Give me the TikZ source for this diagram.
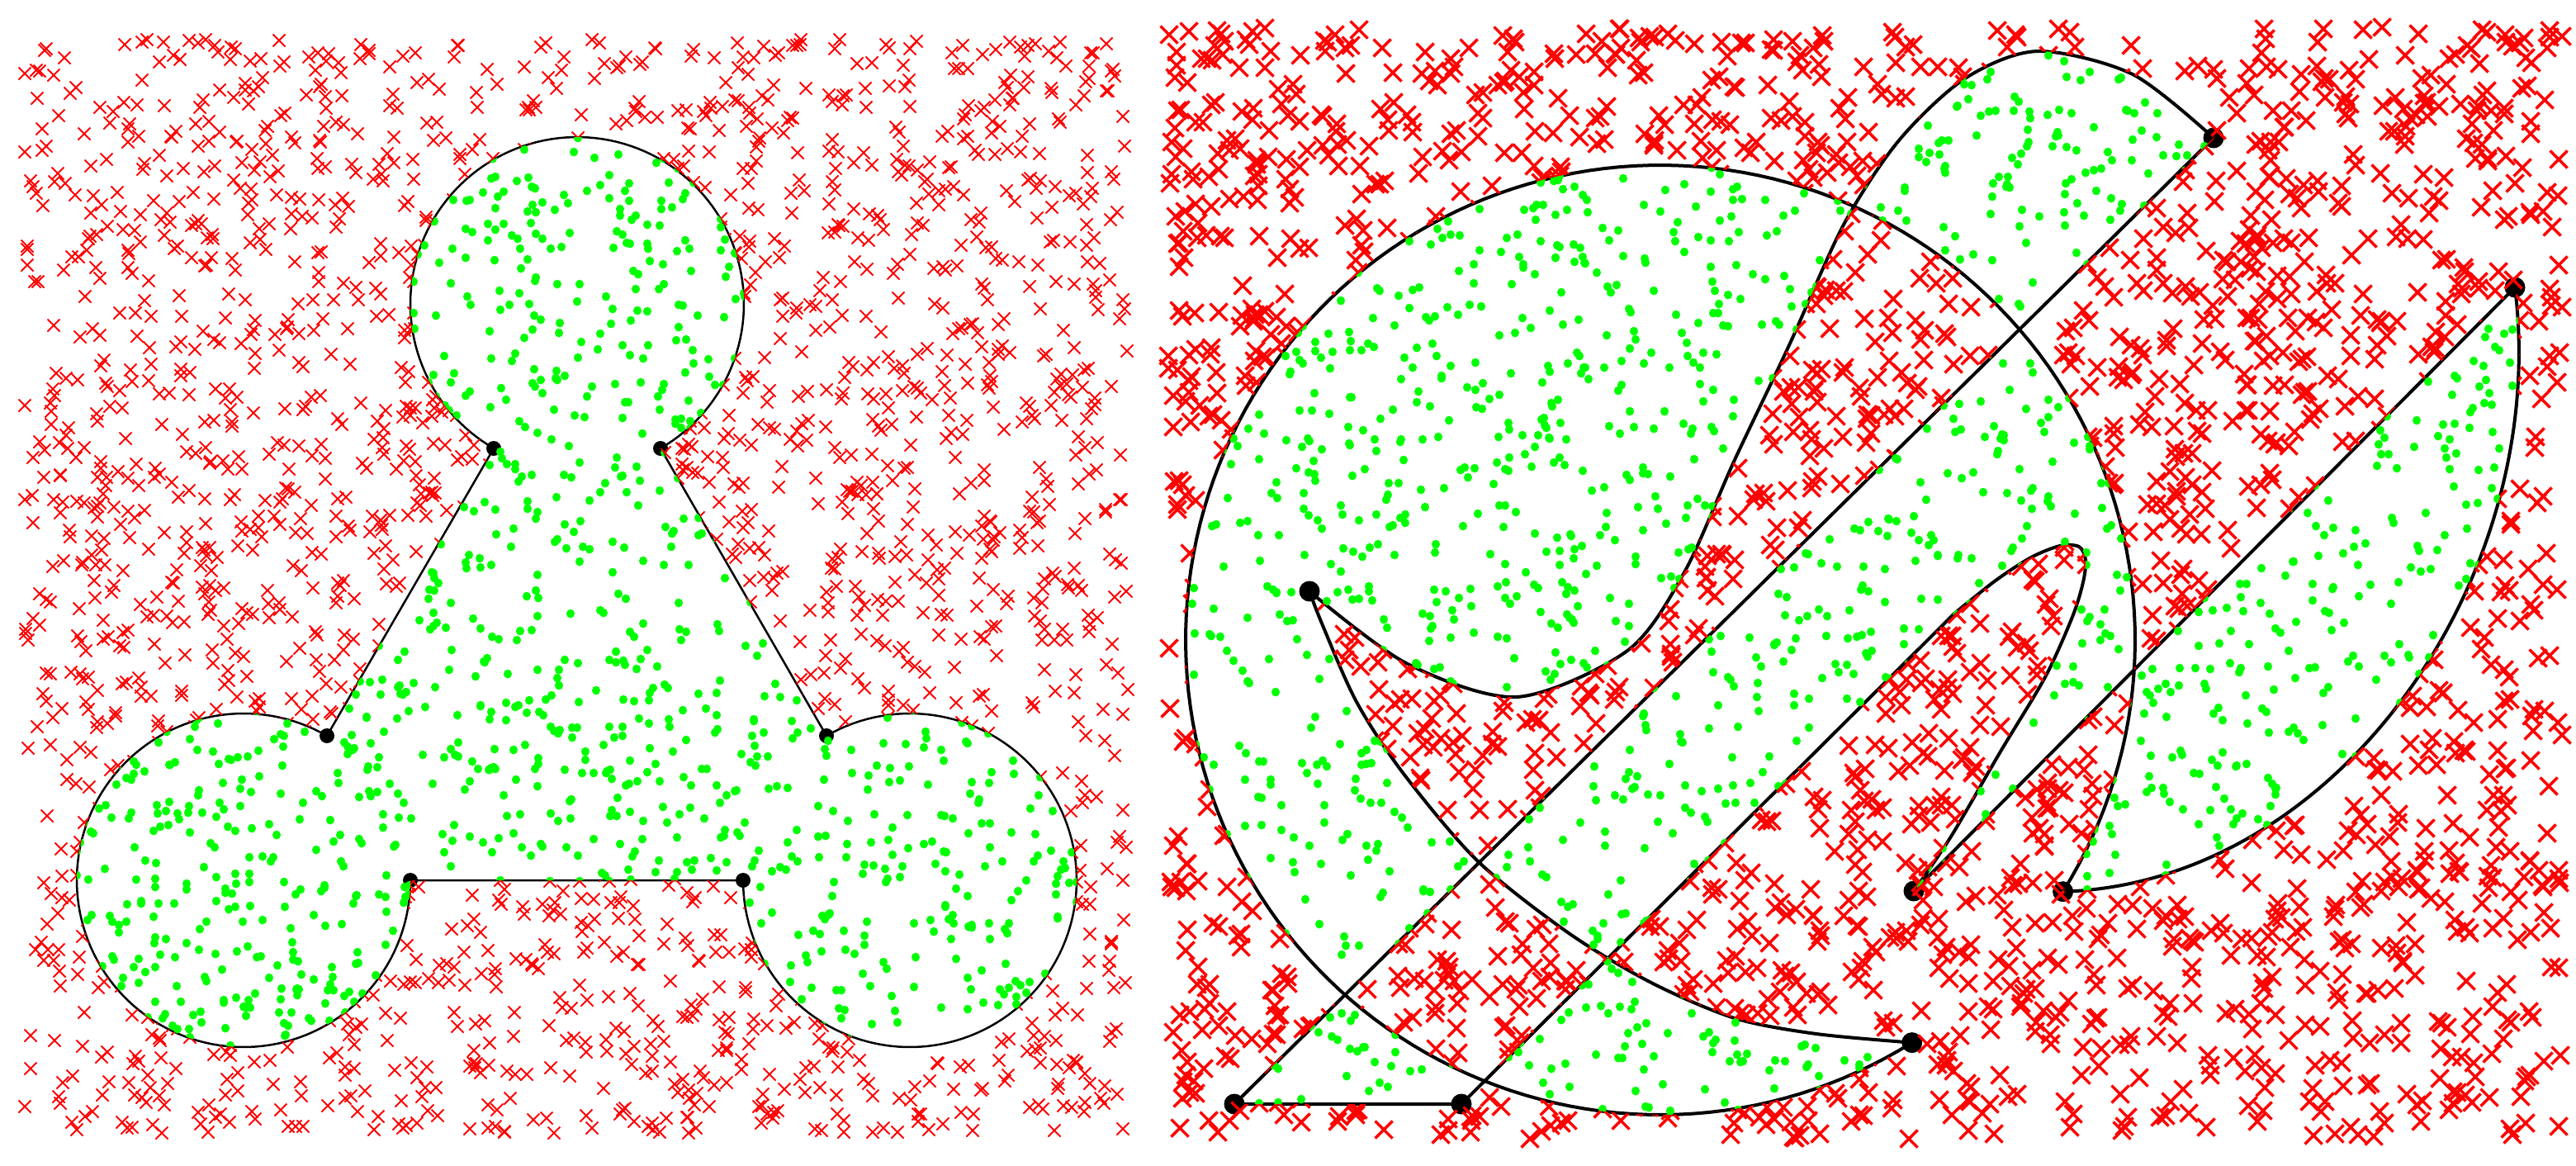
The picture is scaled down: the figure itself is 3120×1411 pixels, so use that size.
\documentclass[tikz,border=0pt]{standalone}
\begin{document}
\begin{tikzpicture}[x=1pt,y=-1pt,
  lcurve/.style={draw=black, line width=2.5pt, line join=round},
  rcurve/.style={draw=black, line width=4pt, line join=round},
  lcross/.style={draw=red, line width=2pt},
  rcross/.style={draw=red, line width=3.5pt},
  gdot/.style={draw=green, line width=10.5pt, line cap=round},
  bdot/.style={fill=black}]
\useasboundingbox[fill=white] (0,0) rectangle (3120,1411);

% ---------- left panel ----------
\coordinate (L1) at (598,543);
\coordinate (L2) at (800,543);
\coordinate (L3) at (1001,891);
\coordinate (L4) at (900,1066);
\coordinate (L5) at (497,1066);
\coordinate (L6) at (396,891);
\def\Lpath{(L1) -- plot[domain=120:420,samples=120] ({699+202*cos(\x)},{368+202*sin(\x)})
  -- (L3) -- plot[domain=240:540,samples=120] ({1102+202*cos(\x)},{1066+202*sin(\x)})
  -- (L5) -- plot[domain=0:300,samples=120] ({295+202*cos(\x)},{1066+202*sin(\x)}) -- cycle}

\path[lcurve] \Lpath;
\foreach \n in {L1,L2,L3,L4,L5,L6} \fill[bdot] (\n) circle[radius=9];

\pgfmathsetseed{4242}
\begin{scope}[even odd rule]
  \clip (0,0) rectangle (1390,1411) \Lpath;
  \foreach \k in {1,...,112}{%
    \draw[lcross] foreach \j in {1,...,25}{
      ({int(30+1337*rnd)},{int(48+1326*rnd)}) +(-7.5,-7.5) -- +(7.5,7.5) +(-7.5,7.5) -- +(7.5,-7.5)};
  }
\end{scope}
\pgfmathsetseed{4242}
\begin{scope}
  \clip \Lpath;
  \foreach \k in {1,...,112}{%
    \draw[gdot] foreach \j in {1,...,25}{
      ({int(30+1337*rnd)},{int(48+1326*rnd)}) -- +(0,0.2)};
  }
\end{scope}

% ---------- right panel ----------
\coordinate (A) at (1495,1337);
\coordinate (B) at (1770,1337);
\coordinate (D) at (2318,1079);
\coordinate (E) at (3046,348);
\coordinate (F) at (2498.6,1079.7);
\coordinate (G) at (2315.7,1262.6);
\coordinate (H) at (1586,716);
\coordinate (I) at (2681,167);
\coordinate (T) at (2367,743);
\def\Rpath{(A) -- (B) -- (T)
  -- plot[smooth] coordinates {(2367,743) (2417,703) (2460,675) (2495,661) (2518,662) (2526,678) (2523,705) (2510,747) (2477,820) (2423,910) (2363,1013) (2318,1079)}
  -- (E) .. controls (3090,700) and (2830,1070) .. (F)
  -- plot[domain=32:-302,samples=180] ({2011+575*cos(\x)},{775+575*sin(\x)})
  -- plot[smooth] coordinates {(2315.7,1262.6) (2200,1252) (2101,1233) (2000,1190) (1900,1130) (1790,1043) (1700,937) (1643,850) (1601,755) (1586,716)}
  -- plot[smooth] coordinates {(1586,716) (1703,803) (1837,844) (1971,788) (2040,693) (2100,559) (2167,418) (2233,272) (2300,170) (2380,95) (2468,62) (2583,90) (2681,167)}
  -- cycle}

\path[rcurve] \Rpath;
\foreach \n in {A,B,D,E,F,G,H,I} \fill[bdot] (\n) circle[radius=12.5];

\pgfmathsetseed{777}
\begin{scope}[even odd rule]
  \clip (1390,0) rectangle (3120,1411) \Rpath;
  \foreach \k in {1,...,120}{%
    \draw[rcross] foreach \j in {1,...,25}{
      ({int(1415+1689*rnd)},{int(33+1347*rnd)}) +(-10.5,-10.5) -- +(10.5,10.5) +(-10.5,10.5) -- +(10.5,-10.5)};
  }
\end{scope}
\pgfmathsetseed{777}
\begin{scope}[even odd rule]
  \clip \Rpath;
  \foreach \k in {1,...,120}{%
    \draw[gdot] foreach \j in {1,...,25}{
      ({int(1415+1689*rnd)},{int(33+1347*rnd)}) -- +(0,0.2)};
  }
\end{scope}
\end{tikzpicture}
\end{document}
